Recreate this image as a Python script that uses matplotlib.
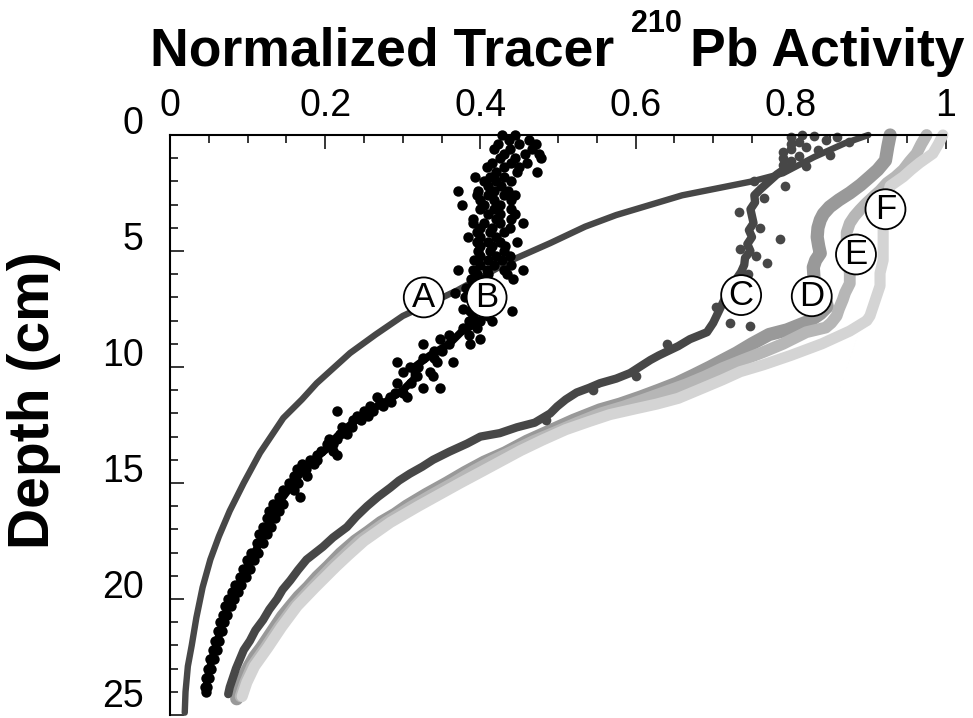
import matplotlib.pyplot as plt
from matplotlib.ticker import MultipleLocator
from matplotlib.transforms import ScaledTranslation

plt.rcParams['font.family'] = ['Liberation Sans', 'DejaVu Sans']

# ---- data (activity vs depth in cm) ----
# A: smooth model profile
a_depth = [0, 0.35, 0.95, 1.65, 2.0, 2.3, 2.6, 3.0, 3.45, 3.95, 4.66, 5.4, 6.0, 6.7,
           7.1, 7.8, 8.6, 9.4, 10.7, 11.4, 12.2, 13.7, 15.0, 16.2, 17.3, 18.3, 19.5,
           20.8, 22.0, 22.9, 24.0, 24.9]
a_act = [0.90, 0.87, 0.83, 0.79, 0.75, 0.705, 0.66, 0.62, 0.575, 0.535, 0.49, 0.44,
         0.408, 0.37, 0.345, 0.30, 0.265, 0.232, 0.189, 0.17, 0.146, 0.116, 0.095,
         0.077, 0.063, 0.052, 0.042, 0.034, 0.028, 0.023, 0.020, 0.019]

# B: scattered black points (depth, activity)
b_points = [
    (0.0, 0.428), (0.0, 0.445), (0.2, 0.437), (0.2, 0.462), (0.4, 0.423), (0.4, 0.45),
    (0.4, 0.472), (0.6, 0.418), (0.6, 0.438), (0.6, 0.466), (0.8, 0.43), (0.8, 0.457),
    (0.8, 0.476), (1.0, 0.425), (1.0, 0.445), (1.0, 0.478), (1.2, 0.415), (1.2, 0.44),
    (1.2, 0.46), (1.4, 0.408), (1.4, 0.43), (1.4, 0.45), (1.6, 0.42), (1.6, 0.447),
    (1.6, 0.473), (1.8, 0.393), (1.8, 0.412), (1.8, 0.43), (2.0, 0.405), (2.0, 0.42),
    (2.0, 0.44), (2.2, 0.41), (2.2, 0.427), (2.4, 0.371), (2.4, 0.397), (2.4, 0.418),
    (2.4, 0.435), (2.6, 0.395), (2.6, 0.41), (2.6, 0.43), (2.6, 0.445), (2.8, 0.40),
    (2.8, 0.417), (2.8, 0.44), (3.0, 0.376), (3.0, 0.405), (3.0, 0.425), (3.2, 0.40),
    (3.2, 0.418), (3.2, 0.44), (3.4, 0.41), (3.4, 0.425), (3.4, 0.445), (3.6, 0.39),
    (3.6, 0.42), (3.6, 0.44), (3.8, 0.39), (3.8, 0.405), (3.8, 0.425), (3.8, 0.455),
    (4.0, 0.40), (4.0, 0.415), (4.0, 0.438), (4.2, 0.395), (4.2, 0.412), (4.2, 0.43),
    (4.4, 0.384), (4.4, 0.40), (4.4, 0.42), (4.6, 0.395), (4.6, 0.41), (4.6, 0.425),
    (4.6, 0.447), (4.8, 0.40), (4.8, 0.415), (4.8, 0.432), (5.0, 0.397), (5.0, 0.412),
    (5.0, 0.43), (5.2, 0.40), (5.2, 0.42), (5.2, 0.438), (5.4, 0.392), (5.4, 0.41),
    (5.4, 0.428), (5.6, 0.40), (5.6, 0.418), (5.6, 0.44), (5.8, 0.371), (5.8, 0.39),
    (5.8, 0.408), (5.8, 0.43), (5.8, 0.455), (6.0, 0.395), (6.0, 0.41), (6.0, 0.434),
    (6.2, 0.388), (6.2, 0.405), (6.2, 0.442), (6.4, 0.39), (6.4, 0.40), (6.6, 0.382),
    (6.6, 0.395), (6.8, 0.367), (6.8, 0.385), (7.0, 0.38), (7.2, 0.39), (7.5, 0.378),
    (7.5, 0.41), (7.6, 0.441), (7.6, 0.387), (7.6, 0.40), (7.8, 0.39), (7.8, 0.41),
    (8.0, 0.385), (8.0, 0.40), (8.0, 0.415), (8.3, 0.378), (8.3, 0.395), (8.6, 0.36),
    (8.6, 0.385), (8.8, 0.348), (8.8, 0.40), (9.0, 0.326), (9.0, 0.36), (9.0, 0.387),
    (9.3, 0.34), (9.3, 0.351), (9.6, 0.326), (9.6, 0.34), (9.8, 0.293), (9.8, 0.344),
    (9.8, 0.365), (10.0, 0.309), (10.0, 0.32), (10.2, 0.30), (10.2, 0.335),
    (10.4, 0.318), (10.4, 0.339), (10.7, 0.293), (10.7, 0.31), (10.9, 0.326),
    (10.9, 0.348), (11.1, 0.29), (11.1, 0.30), (11.3, 0.267), (11.3, 0.284),
    (11.3, 0.305), (11.5, 0.27), (11.5, 0.285), (11.7, 0.258), (11.7, 0.275),
    (11.9, 0.215), (11.9, 0.25), (11.9, 0.262), (12.1, 0.241), (12.1, 0.255),
    (12.3, 0.236), (12.3, 0.246), (12.6, 0.222), (12.6, 0.235), (12.9, 0.219),
    (12.9, 0.228), (13.1, 0.205), (13.1, 0.215), (13.3, 0.202), (13.3, 0.21),
    (13.6, 0.195), (13.6, 0.21), (13.8, 0.19), (13.8, 0.215), (14.0, 0.18), (14.0, 0.19),
    (14.2, 0.17), (14.2, 0.185), (14.4, 0.164), (14.4, 0.175), (14.7, 0.16),
    (14.7, 0.176), (15.0, 0.153), (15.0, 0.165), (15.3, 0.146), (15.3, 0.16),
    (15.6, 0.14), (15.6, 0.168), (15.9, 0.133), (15.9, 0.145), (16.2, 0.128),
    (16.2, 0.14), (16.5, 0.125), (16.5, 0.135), (16.9, 0.12), (16.9, 0.13),
    (17.2, 0.115), (17.2, 0.125), (17.6, 0.112), (17.6, 0.12), (18.0, 0.105),
    (18.0, 0.113), (18.3, 0.099), (18.3, 0.108), (18.7, 0.094), (18.7, 0.103),
    (19.05, 0.09), (19.05, 0.098), (19.4, 0.084), (19.4, 0.092), (19.7, 0.08),
    (19.7, 0.087), (20.0, 0.075), (20.0, 0.083), (20.3, 0.071), (20.3, 0.078),
    (20.7, 0.068), (20.7, 0.074), (21.0, 0.065), (21.0, 0.07), (21.4, 0.062),
    (21.4, 0.067), (21.8, 0.058), (21.8, 0.063), (22.2, 0.055), (22.2, 0.06),
    (22.6, 0.052), (22.6, 0.057), (23.0, 0.049), (23.0, 0.053), (23.4, 0.047),
    (23.4, 0.05), (23.8, 0.045), (23.8, 0.048), (24.0, 0.046),
]
# dense lower part of B
b_core_depth = [8.0, 8.5, 9.0, 9.5, 10.0, 10.5, 11.0, 11.5, 12.0, 12.5, 13.0, 13.5,
                14.0, 14.5, 15.0, 15.5, 16.0, 16.5, 17.0, 17.5, 18.0, 18.5, 19.0,
                19.5, 20.0, 20.5, 21.0, 21.5, 22.0, 22.5, 23.0, 23.5, 24.0]
b_core_act = [0.40, 0.375, 0.36, 0.335, 0.315, 0.315, 0.30, 0.278, 0.25, 0.232, 0.215,
              0.203, 0.185, 0.17, 0.159, 0.148, 0.137, 0.13, 0.124, 0.117, 0.109,
              0.101, 0.094, 0.087, 0.079, 0.073, 0.068, 0.064, 0.059, 0.055, 0.051,
              0.048, 0.046]

# C: band plus loose points near the surface
c_depth = [1.4, 1.7, 2.0, 2.3, 2.6, 2.9, 3.2, 3.5, 3.8, 4.1, 4.4, 4.7, 5.0, 5.3, 5.6,
           5.9, 6.2, 6.7, 7.4, 8.1, 8.5, 8.8, 9.1, 9.5, 9.7, 10.0, 10.26, 10.5, 10.7,
           10.9, 11.1, 11.4, 11.7, 12.0, 12.4, 12.6, 12.85, 13.0, 13.3, 13.65, 14.0,
           14.3, 14.6, 14.9, 15.2, 15.6, 16.0, 16.45, 16.9, 17.35, 17.75, 18.3, 18.75,
           19.2, 19.6, 20.0, 20.45, 20.9, 21.35, 21.8, 22.2, 22.6, 23.0, 23.4, 23.8, 24.1]
c_act = [0.795, 0.782, 0.772, 0.762, 0.753, 0.754, 0.748, 0.75, 0.752, 0.746, 0.75,
         0.744, 0.748, 0.741, 0.74, 0.736, 0.73, 0.72, 0.71, 0.70, 0.692, 0.67, 0.655,
         0.63, 0.619, 0.605, 0.593, 0.575, 0.554, 0.54, 0.524, 0.51, 0.499, 0.49, 0.47,
         0.447, 0.425, 0.40, 0.383, 0.36, 0.339, 0.325, 0.309, 0.295, 0.284, 0.268,
         0.254, 0.24, 0.228, 0.21, 0.197, 0.176, 0.165, 0.155, 0.145, 0.138, 0.128,
         0.12, 0.11, 0.103, 0.095, 0.09, 0.085, 0.081, 0.077, 0.075]
c_points = [
    (0.0, 0.815), (0.05, 0.83), (0.1, 0.80), (0.2, 0.845), (0.1, 0.86), (0.3, 0.875),
    (0.4, 0.80), (0.5, 0.82), (0.65, 0.835), (0.75, 0.79), (0.9, 0.81), (0.85, 0.85),
    (1.1, 0.80), (1.3, 0.79), (1.35, 0.82), (0.6, 0.80), (1.0, 0.79), (0.3, 0.81),
    (2.2, 0.793), (2.0, 0.752), (2.7, 0.765), (3.3, 0.733), (4.0, 0.76), (4.5, 0.786),
    (4.9, 0.735), (5.5, 0.769), (5.2, 0.755), (6.0, 0.745), (7.4, 0.703), (8.1, 0.722),
    (8.25, 0.747), (9.0, 0.64), (10.4, 0.60), (11.0, 0.545), (12.3, 0.485),
]

# D, E, F: nested light profiles
d_depth = [0.0, 0.5, 1.1, 1.5, 1.8, 2.15, 2.5, 2.8, 3.1, 3.4, 3.66, 4.0, 4.4, 4.8, 5.1,
           5.4, 5.7, 6.2, 6.7, 7.1, 7.4, 7.7, 8.0, 8.2, 8.4, 8.6, 9.0, 9.4, 9.75, 10.0,
           10.35, 10.7, 11.0, 11.3, 11.6, 11.85, 12.3, 12.75, 13.2, 13.7, 14.1, 14.55,
           15.0, 15.5, 16.0, 16.35, 16.7, 17.1, 17.5, 18.05, 18.6, 19.05, 19.5, 19.9,
           20.3, 20.75, 21.2, 21.65, 22.1, 22.5, 22.9, 23.3, 23.7, 24.3]
d_act = [0.928, 0.925, 0.922, 0.912, 0.902, 0.89, 0.876, 0.862, 0.85, 0.842, 0.838,
         0.835, 0.834, 0.836, 0.838, 0.832, 0.829, 0.83, 0.835, 0.845, 0.847, 0.838,
         0.825, 0.81, 0.795, 0.772, 0.75, 0.73, 0.71, 0.696, 0.675, 0.653, 0.63, 0.606,
         0.58, 0.554, 0.52, 0.49, 0.46, 0.432, 0.405, 0.38, 0.357, 0.33, 0.305, 0.29,
         0.272, 0.256, 0.239, 0.22, 0.204, 0.19, 0.178, 0.166, 0.156, 0.145, 0.136,
         0.127, 0.118, 0.109, 0.102, 0.096, 0.091, 0.086]

e_depth = [0.0, 0.4, 0.8, 1.15, 1.5, 1.8, 2.07, 2.4, 2.67, 2.95, 3.23, 3.5, 3.8, 4.2,
           4.6, 5.0, 5.5, 6.0, 6.4, 6.8, 7.1, 7.5, 7.8, 8.1, 8.3, 8.5, 9.0, 9.35, 9.7,
           10.05, 10.4, 10.75, 11.05, 11.35, 11.7, 12.0, 12.4, 12.8, 13.2, 13.65, 14.05,
           14.5, 15.0, 15.5, 16.0, 16.7, 17.5, 18.1, 18.6, 19.5, 20.3, 21.2, 22.1, 22.9,
           23.6, 24.2]
e_act = [0.975, 0.968, 0.962, 0.953, 0.945, 0.935, 0.924, 0.915, 0.906, 0.897, 0.889,
         0.882, 0.876, 0.872, 0.872, 0.873, 0.875, 0.876, 0.876, 0.87, 0.867, 0.862,
         0.859, 0.852, 0.845, 0.82, 0.79, 0.765, 0.738, 0.712, 0.69, 0.665, 0.64, 0.615,
         0.585, 0.555, 0.525, 0.497, 0.468, 0.44, 0.415, 0.39, 0.365, 0.338, 0.312,
         0.278, 0.244, 0.225, 0.209, 0.183, 0.161, 0.141, 0.123, 0.106, 0.097, 0.091]

f_depth = [0.0, 0.4, 0.8, 1.2, 1.5, 1.8, 2.2, 2.6, 3.0, 3.5, 4.0, 4.66, 5.4, 5.95, 6.5,
           6.9, 7.4, 7.8, 8.0, 8.45, 9.0, 9.5, 9.9, 10.2, 10.55, 11.0, 11.35, 11.6, 11.8,
           12.05, 12.35, 12.7, 13.15, 13.6, 14.05, 14.5, 15.0, 15.5, 16.0, 16.7, 17.5,
           18.1, 18.6, 19.5, 20.3, 21.2, 22.1, 22.9, 23.6, 24.2]
f_act = [0.996, 0.99, 0.983, 0.966, 0.955, 0.945, 0.928, 0.925, 0.922, 0.92, 0.919,
         0.919, 0.919, 0.915, 0.915, 0.911, 0.906, 0.902, 0.898, 0.876, 0.84, 0.80,
         0.765, 0.735, 0.712, 0.68, 0.655, 0.627, 0.60, 0.567, 0.54, 0.51, 0.48, 0.452,
         0.427, 0.402, 0.374, 0.347, 0.32, 0.284, 0.25, 0.23, 0.214, 0.187, 0.164,
         0.144, 0.126, 0.109, 0.099, 0.093]

profile_names = ['A', 'B', 'C', 'D', 'E', 'F']
name_act = [0.327, 0.408, 0.736, 0.827, 0.884, 0.922]
name_depth = [7.0, 7.0, 6.9, 6.95, 5.15, 3.2]

# ---- figure ----
fig = plt.figure(figsize=(9.73, 7.18), dpi=100)
ax = fig.add_axes([170 / 973, 3 / 718, 776 / 973, 580 / 718])

dark = '#474747'
band = dict(solid_capstyle='round', solid_joinstyle='round', clip_on=False)
ax.plot(d_act, d_depth, color='#999999', lw=9.5, **band)
ax.plot(e_act, e_depth, color='#b6b6b6', lw=8.5, **band)
ax.plot(f_act, f_depth, color='#d4d4d4', lw=8, **band)

ax.plot(c_act, c_depth, color=dark, lw=6, **band)
ax.plot([p[1] for p in c_points], [p[0] for p in c_points], 'o', color=dark,
        ms=7, mec='none', clip_on=False)

ax.plot(a_act, a_depth, color=dark, lw=4.6, **band)

ax.plot(b_core_act, b_core_depth, color='black', lw=5.5, **band)
ax.plot([p[1] for p in b_points], [p[0] for p in b_points], 'o', color='black',
        ms=7.5, mec='none', clip_on=False)

for name, x, y in zip(profile_names, name_act, name_depth):
    ax.text(x, y, name, ha='center', va='center', fontsize=25, zorder=5,
            bbox=dict(boxstyle='circle,pad=0.1', fc='white', ec='black', lw=1.3))

ax.set_xlim(0, 1)
ax.set_ylim(25, 0)

ax.spines['right'].set_visible(False)
ax.spines['bottom'].set_visible(False)
ax.spines['top'].set_linewidth(1.5)
ax.spines['left'].set_linewidth(1.5)

ax.xaxis.set_ticks_position('top')
ax.set_xticks([0, 0.2, 0.4, 0.6, 0.8, 1.0])
ax.set_xticklabels(['0', '0.2', '0.4', '0.6', '0.8', '1'])
ax.xaxis.set_minor_locator(MultipleLocator(0.05))
ax.set_yticks([0, 5, 10, 15, 20, 25])
ax.yaxis.set_minor_locator(MultipleLocator(1))

ax.tick_params(which='both', direction='in', top=True, bottom=False, left=True,
               right=False, labeltop=True, labelbottom=False, width=1.1)
ax.tick_params(which='major', length=10, labelsize=27)
ax.tick_params(which='minor', length=5.5)
ax.tick_params(axis='x', which='major', pad=8)
ax.tick_params(axis='y', which='major', pad=19)

# depth labels sit a little above their ticks
ylabels = ax.get_yticklabels()
for i, lab in enumerate(ylabels):
    up = 22 if i == len(ylabels) - 1 else 15
    lab.set_transform(lab.get_transform()
                      + ScaledTranslation(0, up / 100, fig.dpi_scale_trans))

# title with a superscript
fig.text(614 / 973, 1 - 66 / 718, 'Normalized Tracer', ha='right', va='baseline',
         fontsize=38.5, fontweight='bold')
fig.text(631 / 973, 1 - 32 / 718, '210', ha='left', va='baseline',
         fontsize=22, fontweight='bold')
fig.text(690 / 973, 1 - 66 / 718, 'Pb Activity', ha='left', va='baseline',
         fontsize=38.5, fontweight='bold')

fig.text(34 / 973, 1 - 400 / 718, 'Depth (cm)', rotation=90, ha='center',
         va='center', fontsize=41, fontweight='bold')

fig.savefig('out.png', dpi=100)
